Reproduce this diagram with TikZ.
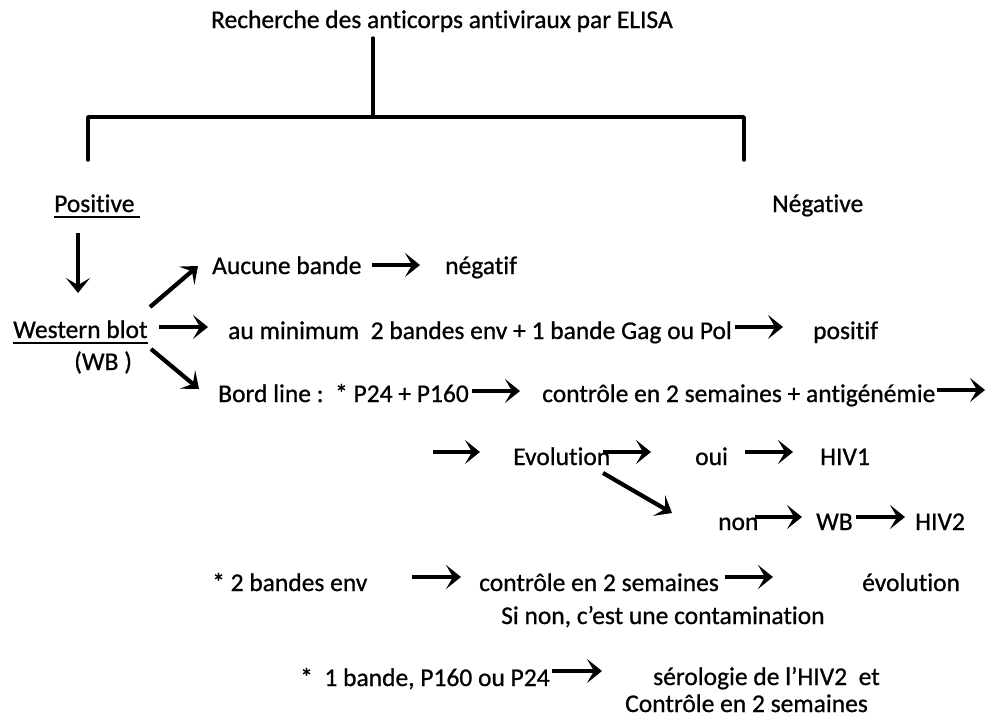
\documentclass[tikz,border=0pt]{standalone}
\usepackage{fontspec}
\setmainfont{Carlito}[FakeBold=0.8,Ligatures=NoCommon]
\usetikzlibrary{arrows.meta}
\tikzset{
  txt/.style={inner sep=0pt, anchor=base west, font=\fontsize{25.5}{28}\selectfont},
  arr/.style={line width=4.2pt, -{Stealth[length=15pt,width=24pt,inset=7pt]}},
  br/.style={line width=3.5pt, line cap=round, line join=round}
}
\begin{document}
\begin{tikzpicture}[x=1pt,y=-1pt]
\useasboundingbox (0,0) rectangle (990,724);
% title and bracket
\node[txt, anchor=base] (title) at (442,28) {Recherche des anticorps antiviraux par ELISA};
\coordinate (top) at (373,38);
\coordinate (mid) at (373,117);
\coordinate (lt) at (88,117);
\coordinate (lb) at (88,160);
\coordinate (rt) at (744,117);
\coordinate (rb) at (744,160);
\draw[br] (top) -- (mid);
\draw[br] (lb) -- (lt) -- (rt) -- (rb);
% level 1
\node[txt] (pos) at (54,212) {Positive};
\draw[line width=2.5pt] ([yshift=-5pt]pos.base west) -- ([xshift=5pt,yshift=-5pt]pos.base east);
\node[txt] (neg) at (772,212) {Négative};
\node[txt] (wb) at (13,338) {Western blot};
\draw[line width=2.5pt] ([yshift=-5pt]wb.base west) -- ([yshift=-5pt]wb.base east);
\node[txt] (wbs) at (74,370) {(WB )};
\draw[arr] (78,233) -- (78,293);
% branch 1
\node[txt] (auc) at (212,274) {Aucune bande};
\node[txt] (negf) at (445,274) {négatif};
\draw[arr] (150,307) -- (198,266);
\draw[arr] (372,265) -- (420,265);
% branch 2
\node[txt] (aumin) at (228,339) {au minimum\ \ 2 bandes env + 1 bande Gag ou Pol};
\node[txt] (posf) at (813,339) {positif};
\draw[arr] (159,327) -- (208,327);
\draw[arr] (735,327) -- (783,327);
% branch 3
\node[txt] (bord) at (218,402) {Bord line :\ \ * P24 + P160};
\node[txt] (ctrl) at (542,402) {contrôle en 2 semaines + antigénémie};
\draw[arr] (151,349) -- (199,389);
\draw[arr] (472,391) -- (520,391);
\draw[arr] (937,390) -- (985,390);
\draw[arr] (433,452) -- (480,452);
\node[txt] (evo) at (513,465) {Evolution};
\draw[arr] (603,452) -- (651,452);
\node[txt] (oui) at (695,465) {oui};
\draw[arr] (745,452) -- (793,452);
\node[txt] (hiv1) at (820,465) {HIV1};
\draw[arr] (603,473) -- (672,513);
\node[txt] (non) at (718,530) {non};
\draw[arr] (755,517) -- (802,517);
\node[txt] (wb2) at (816,530) {WB};
\draw[arr] (856,517) -- (905,517);
\node[txt] (hiv2) at (915,530) {HIV2};
% 2 bandes env
\node[txt] (deux) at (212,591) {* 2 bandes env};
\draw[arr] (412,577) -- (461,577);
\node[txt] (ctrl2) at (479,591) {contrôle en 2 semaines};
\draw[arr] (725,577) -- (773,577);
\node[txt] (evol2) at (862,591) {évolution};
\node[txt] (sinon) at (501,624) {Si non, c’est une contamination};
% 1 bande
\node[txt] (une) at (300,686) {*\ \ 1 bande, P160 ou P24};
\draw[arr] (552,671) -- (602,671);
\node[txt] (sero) at (653,685) {sérologie de l’HIV2\ \ et};
\node[txt] (ctrl3) at (625,712) {Contrôle en 2 semaines};
\end{tikzpicture}
\end{document}
